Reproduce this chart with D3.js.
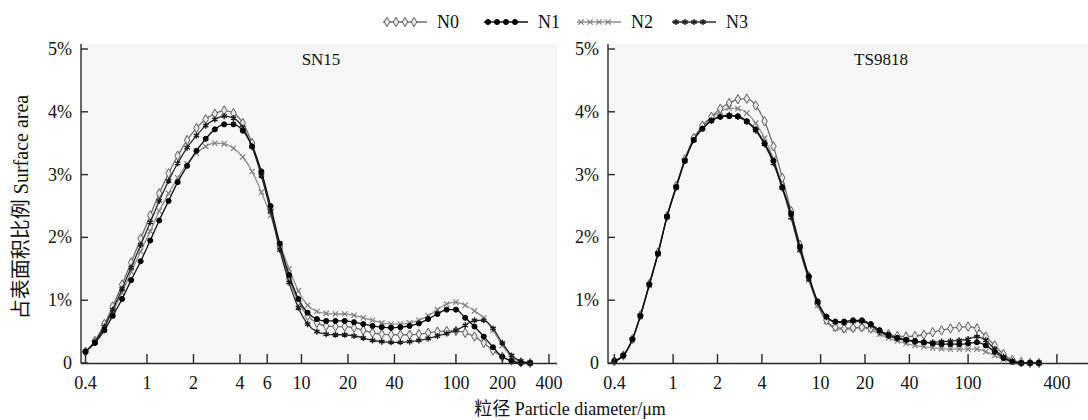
<!DOCTYPE html>
<html><head><meta charset="utf-8">
<script src="https://cdn.jsdelivr.net/npm/d3@7"></script>
<style>
html,body{margin:0;padding:0;background:#ffffff;}
svg{display:block;}
text{font-family:"Liberation Serif","Times New Roman","Noto Sans CJK SC",serif;fill:#111;}
</style></head>
<body>
<svg id="chart" width="1088" height="420"></svg>
<script>
// ---- data ----
const diameters = [0.40,0.46,0.53,0.60,0.69,0.79,0.91,1.05,1.20,1.38,1.58,1.82,2.09,2.40,2.75,3.16,3.63,4.17,4.79,5.50,6.31,7.24,8.32,9.55,10.96,12.59,14.45,16.60,19.05,21.88,25.12,28.84,33.11,38.02,43.65,50.12,57.54,66.07,75.86,87.10,100.0,114.8,131.8,151.4,173.8,199.5,229.1,263.0,302.0];
const seriesNames = ["N0","N1","N2","N3"];
const panelTitles = ["SN15","TS9818"];

const sn15_N0 = [0.18,0.35,0.62,0.90,1.25,1.60,1.98,2.35,2.70,3.02, 3.30,3.55,3.74,3.88,3.97,4.02,3.98,3.82,3.50,3.02, 2.45,1.85,1.35,0.98,0.75,0.64,0.59,0.58,0.58,0.56, 0.52,0.48,0.46,0.45,0.45,0.45,0.46,0.48,0.50,0.51, 0.51,0.48,0.42,0.32,0.20,0.10,0.04,0.01,0.00];
const sn15_N1 = [0.18,0.32,0.52,0.75,1.02,1.32,1.62,1.95,2.27,2.58, 2.88,3.14,3.38,3.57,3.72,3.80,3.80,3.70,3.45,3.05, 2.50,1.90,1.40,1.02,0.80,0.70,0.67,0.67,0.67,0.65, 0.62,0.59,0.57,0.56,0.57,0.59,0.63,0.70,0.78,0.85, 0.85,0.72,0.58,0.42,0.25,0.10,0.03,0.00,0.00];
const sn15_N2 = [0.18,0.33,0.56,0.82,1.12,1.45,1.78,2.10,2.42,2.70, 2.95,3.17,3.34,3.45,3.50,3.49,3.42,3.28,3.05,2.72, 2.35,1.90,1.50,1.15,0.92,0.82,0.79,0.78,0.78,0.76, 0.72,0.68,0.64,0.62,0.62,0.64,0.68,0.75,0.85,0.94, 0.97,0.92,0.83,0.72,0.52,0.28,0.10,0.02,0.00];
const sn15_N3 = [0.18,0.34,0.58,0.85,1.18,1.52,1.88,2.24,2.58,2.90, 3.18,3.43,3.62,3.78,3.88,3.93,3.90,3.75,3.44,2.98, 2.42,1.80,1.28,0.88,0.62,0.50,0.46,0.45,0.45,0.43, 0.40,0.36,0.34,0.33,0.33,0.34,0.36,0.39,0.43,0.47, 0.52,0.60,0.68,0.68,0.55,0.32,0.12,0.03,0.00];

const ts_N0 = [0.03,0.12,0.38,0.76,1.26,1.76,2.34,2.82,3.24,3.58, 3.78,3.92,4.05,4.14,4.20,4.21,4.10,3.85,3.45,2.95, 2.42,1.88,1.38,0.95,0.68,0.57,0.55,0.56,0.57,0.55, 0.50,0.46,0.43,0.42,0.43,0.45,0.49,0.52,0.55,0.57, 0.58,0.55,0.42,0.28,0.14,0.05,0.01,0.00,0.00];
const ts_N1 = [0.03,0.12,0.38,0.75,1.25,1.74,2.33,2.80,3.22,3.55, 3.73,3.86,3.92,3.93,3.93,3.85,3.72,3.50,3.22,2.80, 2.38,1.85,1.38,0.98,0.74,0.66,0.66,0.68,0.68,0.62, 0.52,0.45,0.40,0.37,0.35,0.33,0.31,0.30,0.30,0.30, 0.31,0.33,0.28,0.18,0.08,0.02,0.00,0.00,0.00];
const ts_N2 = [0.03,0.12,0.37,0.74,1.24,1.74,2.33,2.80,3.22,3.56, 3.76,3.90,4.00,4.06,4.05,3.98,3.82,3.58,3.25,2.82, 2.32,1.80,1.32,0.92,0.66,0.55,0.53,0.55,0.56,0.53, 0.46,0.40,0.35,0.31,0.28,0.26,0.24,0.23,0.22,0.22, 0.22,0.22,0.18,0.12,0.06,0.02,0.00,0.00,0.00];
const ts_N3 = [0.03,0.12,0.38,0.75,1.25,1.74,2.33,2.80,3.22,3.55, 3.73,3.86,3.92,3.95,3.92,3.84,3.70,3.48,3.18,2.78, 2.32,1.80,1.34,0.96,0.73,0.65,0.64,0.66,0.66,0.60, 0.50,0.43,0.39,0.36,0.34,0.33,0.33,0.34,0.35,0.36, 0.38,0.42,0.36,0.22,0.10,0.03,0.00,0.00,0.00];

const yTicks = [0,1,2,3,4,5];
const yTickLabels = ["0","1%","2%","3%","4%","5%"];
const xTicksLeft = [0.4,1,2,4,6,10,20,40,100,200,400];
const xTicksRight = [0.4,1,2,4,10,20,40,100,400];

// ---- styles ----
const styles = {
  N0:{line:"#6f6f6f", symbol:d3.symbolDiamond, size:26, fill:"#e8e8e8", stroke:"#5f5f5f", sw:1},
  N1:{line:"#111", symbol:d3.symbolCircle, size:20, fill:"#000", stroke:"#000", sw:1},
  N2:{line:"#8f8f8f", symbol:(d3.symbolTimes||d3.symbolX), size:20, fill:"none", stroke:"#808080", sw:1.2},
  N3:{line:"#2a2a2a", symbol:d3.symbolAsterisk, size:26, fill:"none", stroke:"#1a1a1a", sw:1.4}
};

const panels = [
  {title:panelTitles[0], series:[sn15_N0,sn15_N1,sn15_N2,sn15_N3], xDomain:[0.374,451], xRange:[81,557], ticks:xTicksLeft, titleX:321},
  {title:panelTitles[1], series:[ts_N0,ts_N1,ts_N2,ts_N3], xDomain:[0.362,650], xRange:[608,1088], ticks:xTicksRight, titleX:881}
];

const svg = d3.select("#chart");
const y = d3.scaleLinear().domain([0,5]).range([363,49]);

panels.forEach((p, pi) => {
  const x = d3.scaleLog().domain(p.xDomain).range(p.xRange);
  const g = svg.append("g");
  g.append("rect").attr("x", p.xRange[0]).attr("y", 44).attr("width", p.xRange[1]-p.xRange[0]).attr("height", 363-44).attr("fill", "#f7f7f7");

  const clipId = "clip"+pi;
  svg.append("clipPath").attr("id", clipId).append("rect")
    .attr("x", p.xRange[0]).attr("y", 40).attr("width", p.xRange[1]-p.xRange[0]).attr("height", 330);
  const sg = g.append("g").attr("clip-path", `url(#${clipId})`);
  const line = d3.line().x(d=>x(d[0])).y(d=>y(d[1])).curve(d3.curveMonotoneX);
  const order = [2,0,3,1];
  order.forEach(si => {
    const name = seriesNames[si];
    const st = styles[name];
    const pts = diameters.map((dd,i)=>[dd, p.series[si][i]]);
    sg.append("path").datum(pts).attr("d", line).attr("fill","none")
      .attr("stroke", st.line).attr("stroke-width", 1.3);
    sg.selectAll(null).data(pts).enter().append("path")
      .attr("transform", d=>`translate(${x(d[0])},${y(d[1])})`)
      .attr("d", d3.symbol().type(st.symbol).size(st.size))
      .attr("fill", st.fill).attr("stroke", st.stroke).attr("stroke-width", st.sw);
  });

  // axes
  const ax = g.append("g").attr("stroke", "#2a2a2a").attr("stroke-width", 1.4);
  ax.append("line").attr("x1", p.xRange[0]).attr("x2", p.xRange[0]).attr("y1", 44).attr("y2", 363.5);
  ax.append("line").attr("x1", p.xRange[0]).attr("x2", p.xRange[1]).attr("y1", 363.5).attr("y2", 363.5);
  yTicks.forEach(t => {
    ax.append("line").attr("x1", p.xRange[0]).attr("x2", p.xRange[0]+7).attr("y1", y(t)).attr("y2", y(t));
  });
  p.ticks.forEach(t => {
    ax.append("line").attr("x1", x(t)).attr("x2", x(t)).attr("y1", 363).attr("y2", 354);
  });
  yTicks.forEach((t,i) => {
    g.append("text").attr("x", p.xRange[0]-9).attr("y", y(t)+6).attr("text-anchor","end")
      .attr("font-size", 18).text(yTickLabels[i]);
  });
  p.ticks.forEach(t => {
    g.append("text").attr("x", x(t)).attr("y", 389).attr("text-anchor","middle")
      .attr("font-size", 18).text(String(t));
  });
  g.append("text").attr("x", p.titleX).attr("y", 65).attr("text-anchor","middle")
    .attr("font-size", 17).text(p.title);
});

// axis titles
svg.append("text").attr("transform","translate(28,207) rotate(-90)").attr("text-anchor","middle")
  .attr("font-size", 20).text("占表面积比例 Surface area");
svg.append("text").attr("x", 570).attr("y", 415).attr("text-anchor","middle")
  .attr("font-size", 18).text("粒径 Particle diameter/μm");

// legend
const legendX = [383, 484, 577, 672];
seriesNames.forEach((name, i) => {
  const st = styles[name];
  const lg = svg.append("g");
  const x0 = legendX[i];
  lg.append("line").attr("x1", x0).attr("x2", x0+44).attr("y1", 22).attr("y2", 22)
    .attr("stroke", st.line).attr("stroke-width", 1.3);
  [0,1,2,3].forEach(k => {
    lg.append("path").attr("transform", `translate(${x0+4+k*9},22)`)
      .attr("d", d3.symbol().type(st.symbol).size(st.size))
      .attr("fill", st.fill).attr("stroke", st.stroke).attr("stroke-width", st.sw);
  });
  lg.append("text").attr("x", x0+54).attr("y", 28).attr("font-size", 18).text(name);
});
</script>
</body></html>
